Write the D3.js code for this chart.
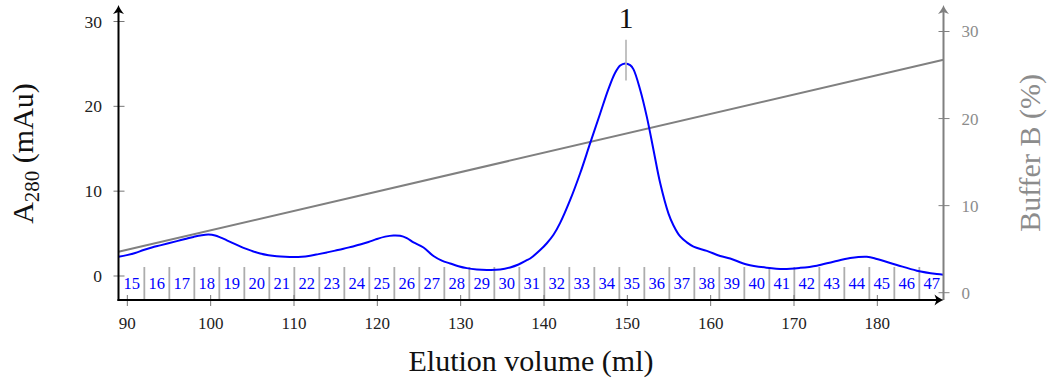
<!DOCTYPE html>
<html>
<head>
<meta charset="utf-8">
<script src="https://cdn.jsdelivr.net/npm/d3@7"></script>
<style>
  html, body { margin: 0; padding: 0; background: #fff; }
  svg { display: block; font-family: "Liberation Serif", "Times New Roman", serif; }
</style>
</head>
<body>
<svg id="chart" width="1049" height="382"></svg>
<script>
// Ion-exchange elution profile: A280 trace, buffer B gradient and collected fractions.

// A280 trace (elution volume in ml, absorbance in mAu)
const volume = [
  89.0, 90, 91, 92, 93, 94, 95, 96, 97, 98, 99, 99.8, 100.6, 101.2, 102, 103, 104, 105, 106, 107,
  108, 109, 110, 111, 112, 113, 114, 115, 116, 117, 118, 119, 120, 121, 122, 122.8, 123.6, 124.4,
  125.6, 126.8, 127.8, 128.8, 129.8, 130.8, 132, 133.2, 134.8, 136, 137, 138, 138.4, 139.6, 140.4,
  141.2, 142, 143.2, 144.4, 145.6, 146.8, 147.8, 148.6, 149.2, 149.8, 150.4, 150.8, 151.6, 152.4,
  153.2, 154, 155, 155.6, 156.4, 157.2, 158, 159.6, 161.2, 162.4, 164.4, 166.8, 168.8, 170.8,
  172.8, 174.8, 176.8, 178.8, 180, 182.4, 184.8, 187.2, 188
];
const absorbance = [
  2.2, 2.4, 2.65, 3.0, 3.3, 3.55, 3.8, 4.05, 4.3, 4.55, 4.75, 4.82, 4.72, 4.5, 4.15, 3.7, 3.25, 2.9, 2.6, 2.4,
  2.27, 2.2, 2.17, 2.2, 2.33, 2.52, 2.72, 2.93, 3.15, 3.4, 3.65, 3.95, 4.3, 4.58, 4.72, 4.68, 4.4, 3.9,
  3.3, 2.3, 1.75, 1.42, 1.1, 0.87, 0.72, 0.66, 0.7, 0.95, 1.3, 1.8, 2.0, 3.0, 3.8,
  4.8, 6.2, 8.9, 12.05, 15.6, 19.1, 22.0, 23.9, 24.75, 25.0, 24.8, 24.3, 21.9, 18.7,
  14.8, 10.9, 7.3, 5.9, 4.6, 3.9, 3.4, 2.9, 2.3, 2.0, 1.3, 0.92, 0.77, 0.9,
  1.16, 1.63, 2.05, 2.2, 1.95, 1.24, 0.57, 0.18, 0.1
];

// Buffer B gradient (ml, %)
const gradientVolume = [89, 188];
const gradientPercent = [4.65, 26.7];

// Collected fractions and their edges (ml)
const fractions = [15, 16, 17, 18, 19, 20, 21, 22, 23, 24, 25, 26, 27, 28, 29, 30, 31,
  32, 33, 34, 35, 36, 37, 38, 39, 40, 41, 42, 43, 44, 45, 46, 47];
const fractionEdges = [89.1, 92.1, 95.1, 98.1, 101.1, 104.1, 107.1, 110.1, 113.1, 116.1, 119.1,
  122.1, 125.1, 128.1, 131.1, 134.1, 137.1, 140.1, 143.1, 146.1, 149.1, 152.1, 155.1, 158.1,
  161.1, 164.1, 167.1, 170.1, 173.1, 176.1, 179.1, 182.1, 185.1, 188.1];

// Peak annotation
const peakNames = ["1"];
const peakVolumes = [149.9];

// Tick values
const volumeTicks = [90, 100, 110, 120, 130, 140, 150, 160, 170, 180];
const absorbanceTicks = [0, 10, 20, 30];
const bufferTicks = [0, 10, 20, 30];

const svg = d3.select("#chart");

const x = d3.scaleLinear().domain([89, 188]).range([118.5, 943.5]);
const yA = d3.scaleLinear().domain([0, 30]).range([275.5, 21]);
const yB = d3.scaleLinear().domain([0, 30]).range([292.2, 31]);

const axisY = 300;      // pixel row of the volume axis
const leftX = x(89);
const rightX = x(188);
const topY = 5;

// Fraction separators
svg.append("g")
  .selectAll("line")
  .data(fractionEdges.slice(1, -1))
  .join("line")
  .attr("x1", d => x(d)).attr("x2", d => x(d))
  .attr("y1", yA(1.0)).attr("y2", axisY)
  .attr("stroke", "#adadad")
  .attr("stroke-width", 1.8);

// Fraction numbers
svg.append("g")
  .selectAll("text")
  .data(fractions)
  .join("text")
  .attr("x", (d, i) => x((fractionEdges[i] + fractionEdges[i + 1]) / 2))
  .attr("y", yA(-0.95))
  .attr("dy", "0.35em")
  .attr("text-anchor", "middle")
  .attr("fill", "#0000ff")
  .attr("font-size", 16.5)
  .text(d => d);

// Buffer B gradient
const gradLine = d3.line().x(d => x(d[0])).y(d => yB(d[1]));
svg.append("path")
  .datum(d3.zip(gradientVolume, gradientPercent))
  .attr("d", gradLine)
  .attr("fill", "none")
  .attr("stroke", "#808080")
  .attr("stroke-width", 2);

// A280 trace
const trace = d3.line()
  .x(d => x(d[0]))
  .y(d => yA(d[1]))
  .curve(d3.curveCatmullRom.alpha(0.5));
svg.append("path")
  .datum(d3.zip(volume, absorbance))
  .attr("d", trace)
  .attr("fill", "none")
  .attr("stroke", "#0000ff")
  .attr("stroke-width", 2)
  .attr("stroke-linejoin", "round");

// Peak marker
const peaks = svg.append("g");
peaks.selectAll("line")
  .data(peakVolumes)
  .join("line")
  .attr("x1", d => x(d)).attr("x2", d => x(d))
  .attr("y1", yA(23.0)).attr("y2", yA(27.8))
  .attr("stroke", "#b3b3b3")
  .attr("stroke-width", 1.6);
peaks.selectAll("text")
  .data(peakVolumes)
  .join("text")
  .attr("x", d => x(d))
  .attr("y", yA(29.15))
  .attr("text-anchor", "middle")
  .attr("font-size", 30)
  .attr("fill", "#111")
  .text((d, i) => peakNames[i]);

// Arrow head shape pointing up, tip at origin
const arrowPath = "M0,0 C1,3 3,6 5.5,9 L0,7 L-5.5,9 C-3,6 -1,3 0,0 Z";

// Volume axis ticks and labels
const xAxis = svg.append("g")
  .attr("transform", `translate(0,${axisY})`)
  .call(d3.axisBottom(x).tickValues(volumeTicks).tickSize(5).tickFormat(d3.format("d")));
xAxis.select(".domain").remove();
xAxis.selectAll(".tick line").attr("y1", -5).attr("y2", 6).attr("stroke", "#777");
xAxis.selectAll(".tick text")
  .attr("y", 23).attr("dy", "0.35em")
  .attr("font-size", 17).attr("font-family", "Liberation Serif").attr("fill", "#222");

// Absorbance axis ticks and labels
const aAxis = svg.append("g")
  .attr("transform", `translate(${leftX},0)`)
  .call(d3.axisLeft(yA).tickValues(absorbanceTicks).tickSize(5).tickFormat(d3.format("d")));
aAxis.select(".domain").remove();
aAxis.selectAll(".tick line").attr("x1", -5).attr("x2", 6).attr("stroke", "#777");
aAxis.selectAll(".tick text")
  .attr("x", -16.5).attr("dy", "0.35em")
  .attr("font-size", 17.5).attr("font-family", "Liberation Serif").attr("fill", "#222");

// Buffer axis ticks and labels
const bAxis = svg.append("g")
  .attr("transform", `translate(${rightX},0)`)
  .call(d3.axisRight(yB).tickValues(bufferTicks).tickSize(5).tickFormat(d3.format("d")));
bAxis.select(".domain").remove();
bAxis.selectAll(".tick line").attr("x1", -5).attr("x2", 6).attr("stroke", "#808080");
bAxis.selectAll(".tick text")
  .attr("x", 18).attr("dy", "0.35em")
  .attr("font-size", 17).attr("font-family", "Liberation Serif").attr("fill", "#8c8c8c");

// Axis lines with arrow heads
svg.append("line")
  .attr("x1", rightX).attr("x2", rightX)
  .attr("y1", axisY).attr("y2", topY + 4)
  .attr("stroke", "#808080").attr("stroke-width", 2);
svg.append("path")
  .attr("d", arrowPath)
  .attr("transform", `translate(${rightX},${topY})`)
  .attr("fill", "#808080");

svg.append("line")
  .attr("x1", leftX).attr("x2", leftX)
  .attr("y1", axisY + 1).attr("y2", topY + 4)
  .attr("stroke", "#000").attr("stroke-width", 2);
svg.append("path")
  .attr("d", arrowPath)
  .attr("transform", `translate(${leftX},${topY})`)
  .attr("fill", "#000");

svg.append("line")
  .attr("x1", leftX - 1).attr("x2", rightX - 4)
  .attr("y1", axisY).attr("y2", axisY)
  .attr("stroke", "#000").attr("stroke-width", 2);
svg.append("path")
  .attr("d", arrowPath)
  .attr("transform", `translate(${rightX},${axisY}) rotate(90)`)
  .attr("fill", "#000");

// Axis titles
svg.append("text")
  .attr("x", (leftX + rightX) / 2)
  .attr("y", 371)
  .attr("text-anchor", "middle")
  .attr("font-size", 30)
  .attr("fill", "#111")
  .text("Elution volume (ml)");

const aTitle = svg.append("text")
  .attr("transform", "translate(33,153.5) rotate(-90)")
  .attr("text-anchor", "middle")
  .attr("font-size", 30)
  .attr("fill", "#111");
aTitle.append("tspan").text("A");
aTitle.append("tspan").attr("font-size", 21).attr("dy", 6).text("280");
aTitle.append("tspan").attr("dy", -6).text(" (mAu)");

svg.append("text")
  .attr("transform", "translate(1040,153) rotate(-90)")
  .attr("text-anchor", "middle")
  .attr("font-size", 30)
  .attr("fill", "#8c8c8c")
  .text("Buffer B (%)");
</script>
</body>
</html>
